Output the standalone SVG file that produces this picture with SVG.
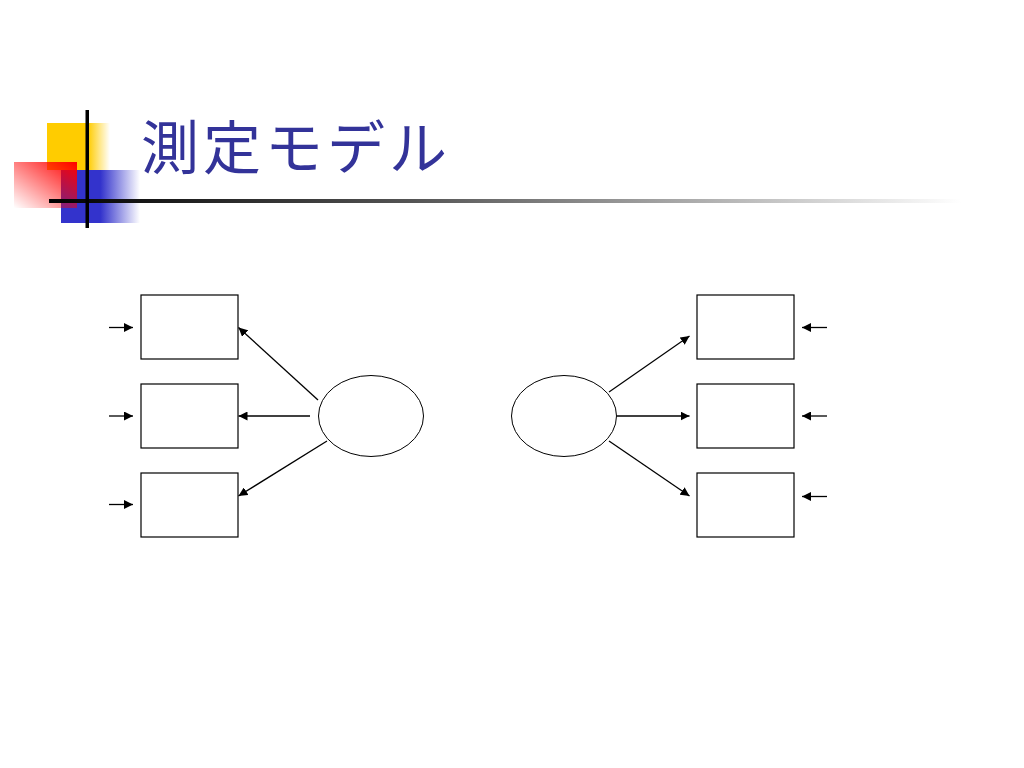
<svg xmlns="http://www.w3.org/2000/svg" width="1024" height="768" viewBox="0 0 1024 768">
<defs>
<linearGradient id="gY" x1="0" y1="0" x2="1" y2="0"><stop offset="0" stop-color="#ffcc00"/><stop offset="0.65" stop-color="#ffcc00"/><stop offset="1" stop-color="#ffcc00" stop-opacity="0"/></linearGradient>
<linearGradient id="gB" x1="0" y1="0" x2="1" y2="0"><stop offset="0" stop-color="#3333cc"/><stop offset="0.5" stop-color="#3333cc"/><stop offset="1" stop-color="#3333cc" stop-opacity="0"/></linearGradient>
<linearGradient id="gR" x1="1" y1="0" x2="0" y2="1"><stop offset="0" stop-color="#ff0000"/><stop offset="1" stop-color="#ff0000" stop-opacity="0"/></linearGradient>
<linearGradient id="gL" x1="0" y1="0" x2="1" y2="0"><stop offset="0" stop-color="#000"/><stop offset="0.4" stop-color="#555"/><stop offset="1" stop-color="#fff"/></linearGradient>
<marker id="ah" viewBox="0 0 10 10" refX="10" refY="5" markerWidth="9" markerHeight="9" markerUnits="userSpaceOnUse" orient="auto"><path d="M0,0 L10,5 L0,10 z" fill="#000"/></marker>
<style>
.box{fill:#fff;stroke:#000;stroke-width:1.2}
.ell{fill:#fff;stroke:#000;stroke-width:1}
.c{stroke:#000;stroke-width:1.3;fill:none;marker-end:url(#ah)}
.title{font-family:"Noto Sans CJK JP","Noto Sans CJK SC",sans-serif;font-size:58px;letter-spacing:4px;fill:#333399}
</style>
</defs>
<rect width="1024" height="768" fill="#fff"/>
<g id="decor">
<rect x="47" y="123" width="63" height="47" fill="url(#gY)"/>
<rect x="61" y="170" width="79" height="53" fill="url(#gB)"/>
<rect x="14" y="162" width="63" height="46" fill="url(#gR)"/>
<rect x="49" y="199" width="912" height="4" fill="url(#gL)"/>
<rect x="85.5" y="110" width="3.5" height="118" fill="#000"/>
</g>
<text class="title" x="141" y="169">測定モデル</text>
<g id="left-factor"><ellipse class="ell" cx="371" cy="416" rx="52.5" ry="40.5"/></g>
<g id="right-factor"><ellipse class="ell" cx="564" cy="416" rx="52.5" ry="40.5"/></g>
<g id="L1"><rect class="box" x="141" y="295" width="97" height="64"/></g>
<g id="L2"><rect class="box" x="141" y="384" width="97" height="64"/></g>
<g id="L3"><rect class="box" x="141" y="473" width="97" height="64"/></g>
<g id="R1"><rect class="box" x="697" y="295" width="97" height="64"/></g>
<g id="R2"><rect class="box" x="697" y="384" width="97" height="64"/></g>
<g id="R3"><rect class="box" x="697" y="473" width="97" height="64"/></g>
<g id="connectors">
<line class="c" x1="318" y1="400" x2="238.5" y2="327.5"/>
<line class="c" x1="310" y1="416" x2="238.5" y2="416"/>
<line class="c" x1="327" y1="441" x2="238.5" y2="496"/>
<line class="c" x1="609" y1="392" x2="689.5" y2="336"/>
<line class="c" x1="617" y1="416" x2="689.5" y2="416"/>
<line class="c" x1="609" y1="441" x2="689.5" y2="496"/>
<line class="c" x1="109" y1="327.5" x2="133" y2="327.5"/>
<line class="c" x1="109" y1="416" x2="133" y2="416"/>
<line class="c" x1="109" y1="504.5" x2="133" y2="504.5"/>
<line class="c" x1="827" y1="327.5" x2="802" y2="327.5"/>
<line class="c" x1="827" y1="416" x2="802" y2="416"/>
<line class="c" x1="827" y1="496.5" x2="802" y2="496.5"/>
</g>
</svg>
